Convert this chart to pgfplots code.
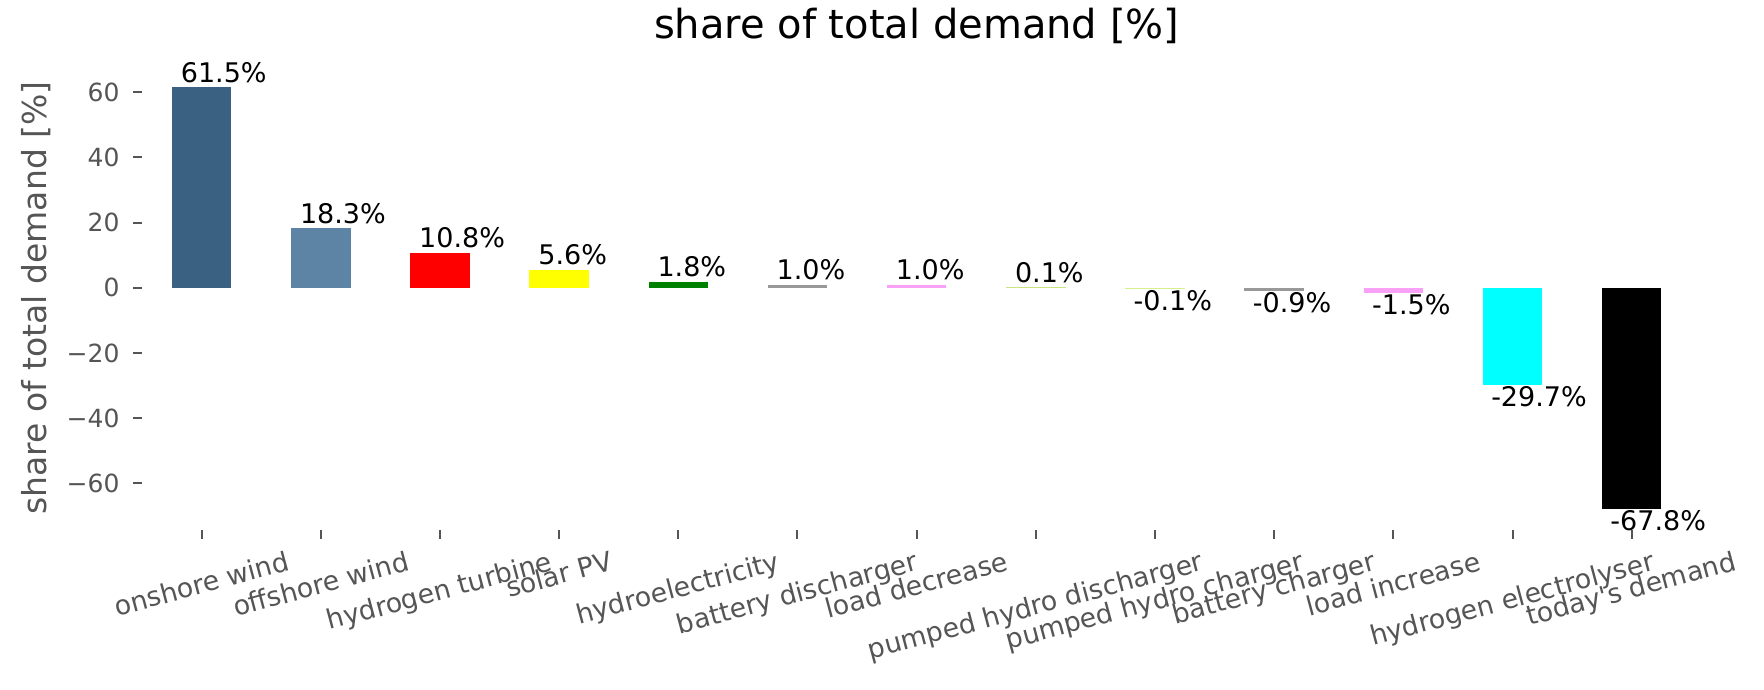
\documentclass[border=0pt]{standalone}
\usepackage{fontspec}
\setmainfont{DejaVu Sans}[Ligatures=TeXOff]
\usepackage{graphicx}
\usepackage{pgfplots}
\pgfplotsset{compat=1.18}
\definecolor{labelgray}{HTML}{555555}
\definecolor{c0}{HTML}{3B6182}
\definecolor{c1}{HTML}{5E84A5}
\definecolor{c2}{HTML}{FF0000}
\definecolor{c3}{HTML}{FFFF00}
\definecolor{c4}{HTML}{008000}
\definecolor{c5}{HTML}{999999}
\definecolor{c6}{HTML}{F9A0F7}
\definecolor{c7}{HTML}{C8E67F}
\definecolor{c8}{HTML}{D4F08C}
\definecolor{c9}{HTML}{999999}
\definecolor{c10}{HTML}{F9A0F7}
\definecolor{c11}{HTML}{00FFFF}
\definecolor{c12}{HTML}{000000}
\newcommand\annfont{\fontsize{10.8}{13}\selectfont}
\pgfplotsset{
  posnode/.style={nodes near coords={#1},
    every node near coord/.append style={anchor=base west, xshift=-8.5pt, yshift=2pt, inner sep=0pt, font=\annfont, text=black}},
  negnode/.style={nodes near coords={#1},
    every node near coord/.append style={anchor=north west, xshift=-8.7pt, yshift=-0.6pt, inner sep=0pt, font=\annfont, text=black}},
}
\begin{document}
\begin{tikzpicture}
\useasboundingbox (-56.8pt,-63.7pt) rectangle (648.7pt,211.9pt);
\begin{axis}[
  at={(0pt,0pt)}, anchor=south west,
  scale only axis, width=619.6pt, height=185.4pt,
  xmin=-0.5, xmax=12.5, ymin=-74.27, ymax=67.97,
  ybar, bar width=0.5, bar shift=0pt,
  axis line style={draw=none},
  xtick pos=bottom, ytick pos=left,
  tick align=outside, major tick length=3.5pt,
  every tick/.style={draw=labelgray, line width=0.8pt},
  xtick={0,1,2,3,4,5,6,7,8,9,10,11,12},
  xticklabels={\rotatebox{15}{onshore wind},\rotatebox{15}{offshore wind},\rotatebox{15}{hydrogen turbine},\rotatebox{15}{solar PV},\rotatebox{15}{hydroelectricity},\rotatebox{15}{battery discharger},\rotatebox{15}{load decrease},\rotatebox{15}{pumped hydro discharger},\rotatebox{15}{pumped hydro charger},\rotatebox{15}{battery charger},\rotatebox{15}{load increase},\rotatebox{15}{hydrogen electrolyser},\rotatebox{15}{today's demand}},
  xticklabel style={anchor=north, inner sep=0pt, yshift=-4.5pt, font=\fontsize{10.7}{12}\selectfont, text=labelgray},
  ytick={-60,-40,-20,0,20,40,60},
  yticklabels={−60,−40,−20,0,20,40,60},
  yticklabel style={anchor=east, inner sep=0pt, xshift=-5.3pt, font=\fontsize{10}{12}\selectfont, text=labelgray},
  title={share of total demand [\%]},
  title style={at={(rel axis cs:0.5,1)}, anchor=base, yshift=5.1pt, inner sep=0pt, font=\fontsize{16}{19}\selectfont},
  ylabel={share of total demand [\%]},
  every axis y label/.style={at={(rel axis cs:0,0.5)}, rotate=90, anchor=south, inner sep=0pt, yshift=36.2pt, font=\fontsize{13.2}{16}\selectfont, text=labelgray},
  clip=false,
]
\addplot[fill=c0, draw=none, posnode={61.5\%}] coordinates {(0,61.5)};
\addplot[fill=c1, draw=none, posnode={18.3\%}] coordinates {(1,18.3)};
\addplot[fill=c2, draw=none, posnode={10.8\%}] coordinates {(2,10.8)};
\addplot[fill=c3, draw=none, posnode={5.6\%}] coordinates {(3,5.6)};
\addplot[fill=c4, draw=none, posnode={1.8\%}] coordinates {(4,1.8)};
\addplot[fill=c5, draw=none, posnode={1.0\%}] coordinates {(5,1.0)};
\addplot[fill=c6, draw=none, posnode={1.0\%}] coordinates {(6,1.0)};
\addplot[fill=c7, draw=none, posnode={0.1\%}] coordinates {(7,0.1)};
\addplot[fill=c8, draw=none, negnode={-0.1\%}] coordinates {(8,-0.1)};
\addplot[fill=c9, draw=none, negnode={-0.9\%}] coordinates {(9,-0.9)};
\addplot[fill=c10, draw=none, negnode={-1.5\%}] coordinates {(10,-1.5)};
\addplot[fill=c11, draw=none, negnode={-29.7\%}] coordinates {(11,-29.7)};
\addplot[fill=c12, draw=none, negnode={-67.8\%}] coordinates {(12,-67.8)};
\end{axis}
\end{tikzpicture}
\end{document}
